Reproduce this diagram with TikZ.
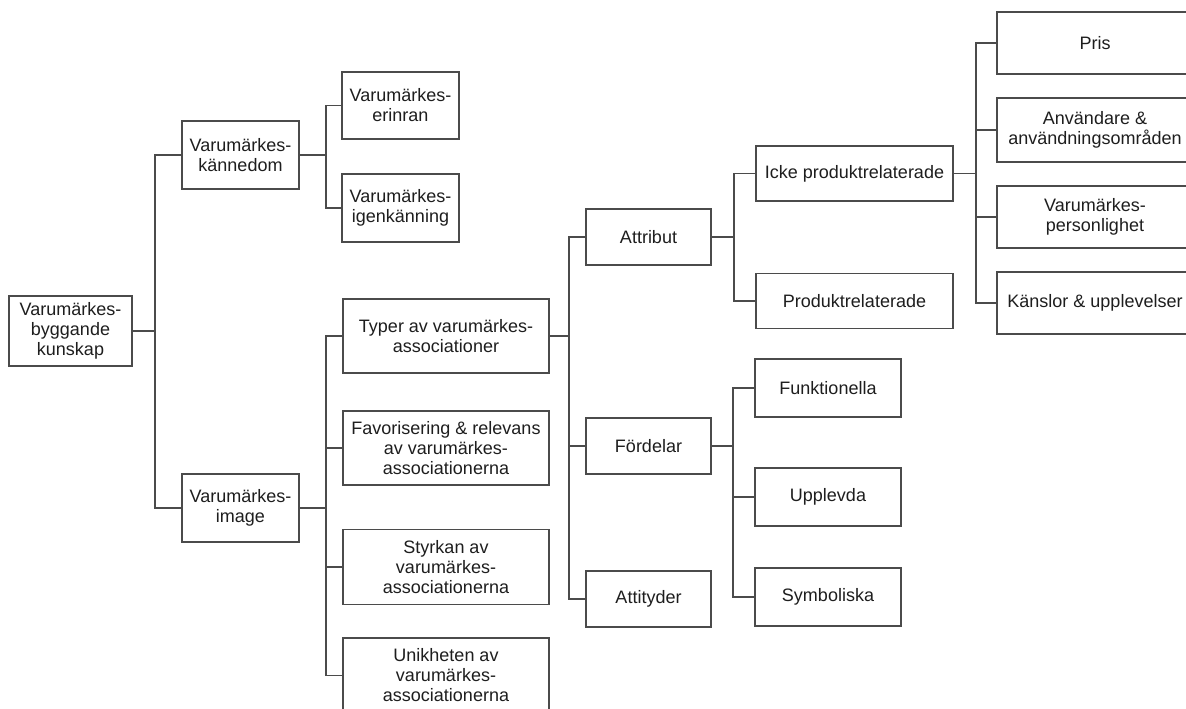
\documentclass[tikz,border=0pt]{standalone}
\usepackage{fontspec}
\setmainfont{Liberation Sans}
\definecolor{linec}{RGB}{75,75,75}
\definecolor{textc}{RGB}{30,30,30}
\tikzset{
  box/.style={draw=linec, line width=1.3pt, align=center, inner sep=0pt, text=textc,
    font=\fontsize{18}{20}\selectfont},
  conn/.style={draw=linec, line width=1.3pt},
}
\newcommand{\bx}[6]{\node[box, minimum width=#4pt, minimum height=#5pt] (#1) at (#2,#3) {#6};}
\begin{document}
\begin{tikzpicture}[x=1pt,y=-1pt]
\useasboundingbox (0,0) rectangle (1186,709);
\fill[white] (0,0) rectangle (1186,709);
\bx{root}{70.5}{331}{123}{70}{Varumärkes-\\byggande\\kunskap}
\bx{kann}{240.5}{155}{117}{68}{Varumärkes-\\kännedom}
\bx{image}{240.5}{508}{117}{68}{Varumärkes-\\image}
\bx{erin}{400.5}{105.5}{117}{67}{Varumärkes-\\erinran}
\bx{igen}{400.5}{208}{117}{68}{Varumärkes-\\igenkänning}
\bx{typer}{446}{336}{206}{74}{Typer av varumärkes-\\associationer}
\bx{favor}{446}{448}{206}{74}{Favorisering \& relevans\\av varumärkes-\\associationerna}
\bx{styrk}{446}{567}{206}{75}{Styrkan av\\varumärkes-\\associationerna}
\bx{unik}{446}{675.5}{206}{75}{Unikheten av\\varumärkes-\\associationerna}
\bx{attr}{648.5}{237}{125}{56}{Attribut}
\bx{ford}{648.5}{446}{125}{56}{Fördelar}
\bx{atti}{648.5}{599}{125}{56}{Attityder}
\bx{icke}{854.5}{173.5}{197}{55}{Icke produktrelaterade}
\bx{prod}{854.5}{301}{197}{55}{Produktrelaterade}
\bx{funk}{828}{388}{146}{58}{Funktionella}
\bx{uppl}{828}{497}{146}{58}{Upplevda}
\bx{symb}{828}{597}{146}{58}{Symboliska}
\bx{pris}{1095}{43}{196}{62}{Pris}
\bx{anv}{1095}{130}{196}{64}{Användare \&\\användningsområden}
\bx{pers}{1095}{217}{196}{62}{Varumärkes-\\personlighet}
\bx{kans}{1095}{303}{196}{62}{Känslor \& upplevelser}
\coordinate (b1) at (155,0);
\coordinate (b2) at (326,0);
\coordinate (b3) at (326,0);
\coordinate (b4) at (569,0);
\coordinate (b5) at (734,0);
\coordinate (b6) at (733,0);
\coordinate (b7) at (976,0);
\foreach \c in {kann,image} \draw[conn] (root.east) -| (b1 |- \c.west) -- (\c.west);
\foreach \c in {erin,igen} \draw[conn] (kann.east) -| (b2 |- \c.west) -- (\c.west);
\foreach \c in {typer,favor,styrk,unik} \draw[conn] (image.east) -| (b3 |- \c.west) -- (\c.west);
\foreach \c in {attr,ford,atti} \draw[conn] (typer.east) -| (b4 |- \c.west) -- (\c.west);
\foreach \c in {icke,prod} \draw[conn] (attr.east) -| (b5 |- \c.west) -- (\c.west);
\foreach \c in {funk,uppl,symb} \draw[conn] (ford.east) -| (b6 |- \c.west) -- (\c.west);
\foreach \c in {pris,anv,pers,kans} \draw[conn] (icke.east) -| (b7 |- \c.west) -- (\c.west);
\end{tikzpicture}
\end{document}
